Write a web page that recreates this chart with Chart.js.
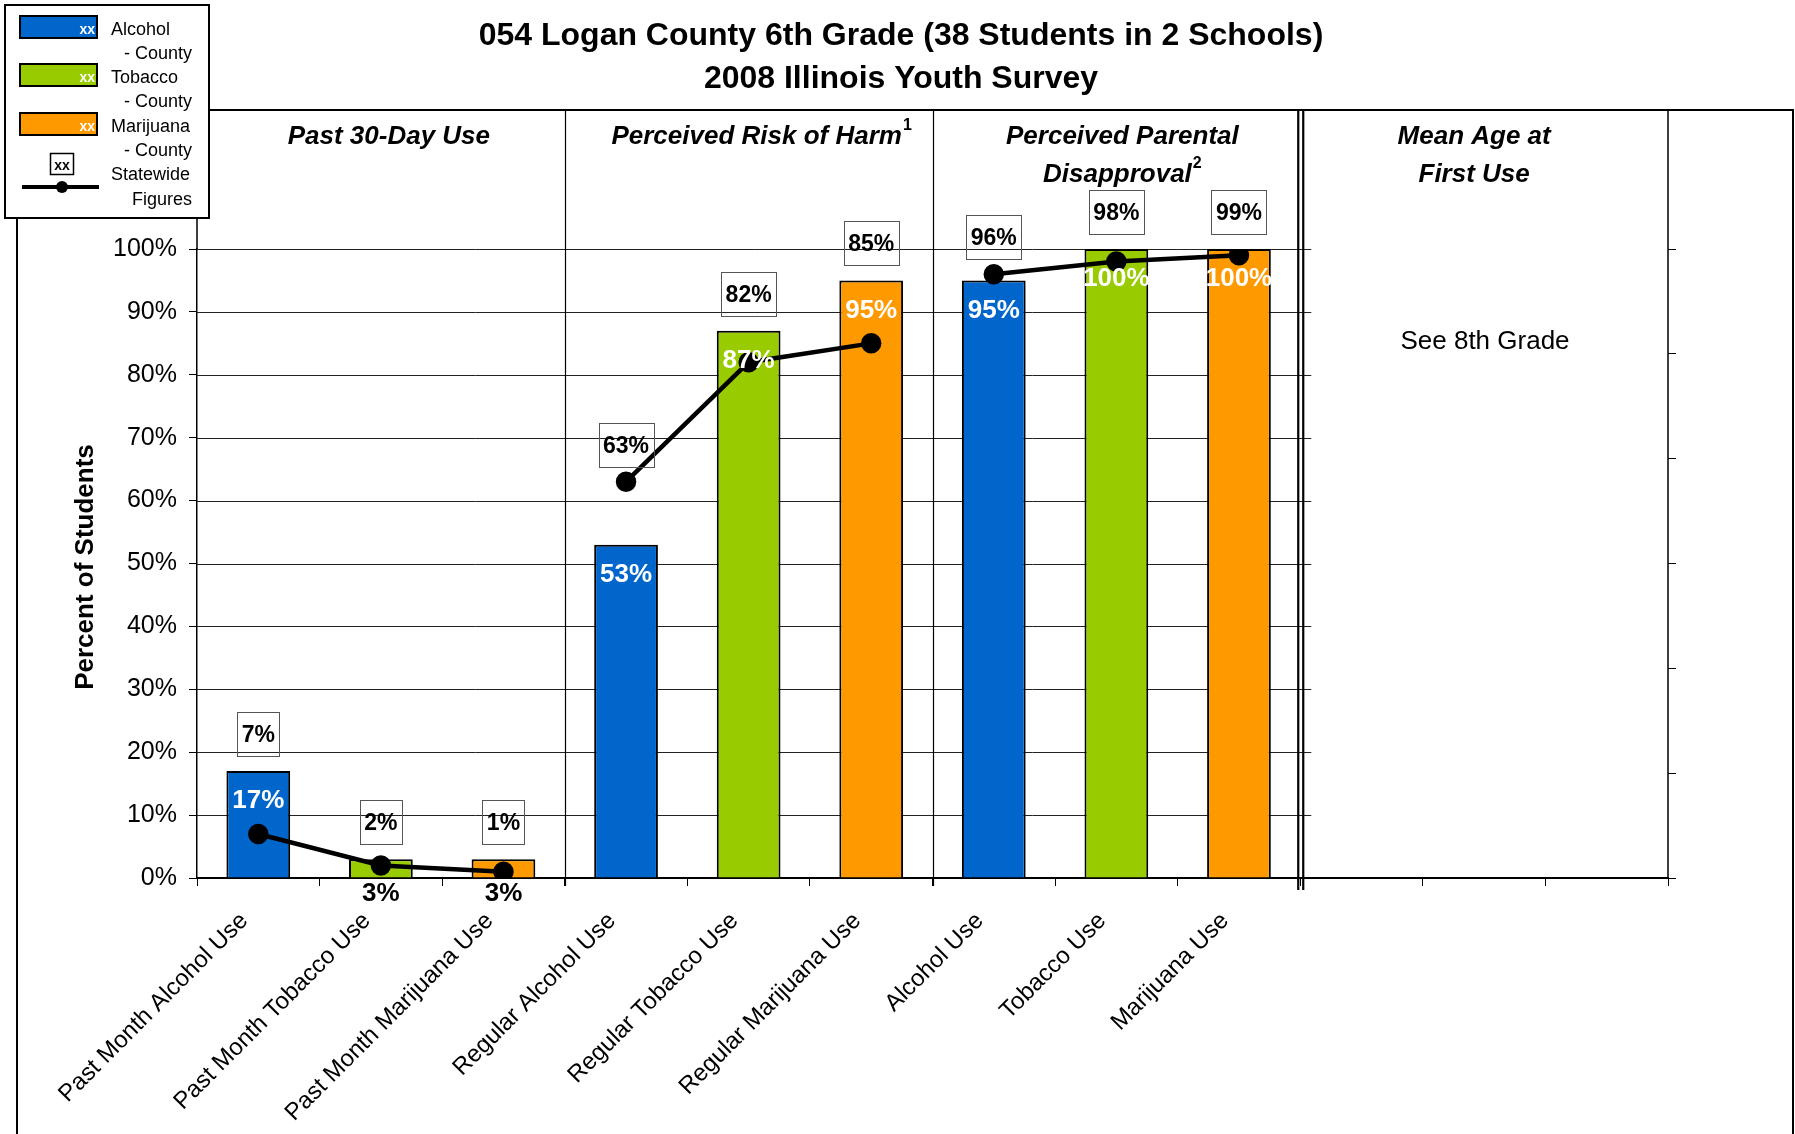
<!DOCTYPE html>
<html>
<head>
<meta charset="utf-8">
<title>054 Logan County 6th Grade</title>
<script src="https://cdn.jsdelivr.net/npm/chart.js@4.4.1/dist/chart.umd.min.js"></script>
<style>
  html, body { margin: 0; padding: 0; background: #fff; }
  #wrap { position: relative; width: 1795px; height: 1134px; }
</style>
</head>
<body>
<div id="wrap"><canvas id="myChart" width="1795" height="1134"></canvas></div>
<script>
// categories (last three slots are the empty "Mean Age" panel)
const categories = [
  'Past Month Alcohol Use', 'Past Month Tobacco Use', 'Past Month Marijuana Use',
  'Regular Alcohol Use', 'Regular Tobacco Use', 'Regular Marijuana Use',
  'Alcohol Use', 'Tobacco Use', 'Marijuana Use',
  '', '', ''
];
const county = [17, 3, 3, 53, 87, 95, 95, 100, 100];
const statewide = [7, 2, 1, 63, 82, 85, 96, 98, 99];
const yTicks = [0, 10, 20, 30, 40, 50, 60, 70, 80, 90, 100];
const substanceColors = ['#0066CC', '#99CC00', '#FF9900'];

const sections = [
  { lines: ['Past 30-Day Use'], sup: [''] },
  { lines: ['Perceived Risk of Harm'], sup: ['1'] },
  { lines: ['Perceived Parental', 'Disapproval'], sup: ['', '2'] },
  { lines: ['Mean Age at', 'First Use'], sup: ['', ''] }
];

const FONT = "'Liberation Sans', Arial, Helvetica, sans-serif";
Chart.defaults.font.family = FONT;
Chart.defaults.color = '#000';

// bars padded with nulls for the empty panel
const barData = categories.map((c, i) => (i < county.length ? county[i] : null));
const barColors = categories.map((c, i) => substanceColors[i % 3]);

// one line per panel so the statewide line breaks between panels
const lineSets = [0, 1, 2].map(s => ({
  type: 'line',
  data: categories.map((c, i) => (i >= s * 3 && i < s * 3 + 3 ? statewide[i] : null)),
  borderColor: '#000',
  borderWidth: 4.5,
  pointRadius: 8,
  pointHoverRadius: 8,
  pointBackgroundColor: '#000',
  pointBorderColor: '#000',
  spanGaps: false,
  order: 0
}));

function boundary(x, i) {
  return (x.getPixelForValue(i - 1) + x.getPixelForValue(i)) / 2;
}

const framePlugin = {
  id: 'frame',
  beforeDatasetsDraw(chart) {
    const ctx = chart.ctx, a = chart.chartArea;
    const x = chart.scales.x, y = chart.scales.y;
    const gridEnd = boundary(x, 9) + 11;
    ctx.save();
    // horizontal grid only over the three data panels
    ctx.strokeStyle = '#222';
    ctx.lineWidth = 1;
    yTicks.forEach(v => {
      if (v === 0) return;
      const py = Math.round(y.getPixelForValue(v)) + 0.5;
      ctx.beginPath();
      ctx.moveTo(a.left, py);
      ctx.lineTo(gridEnd, py);
      ctx.stroke();
    });
    // panel separators
    ctx.strokeStyle = '#000';
    ctx.lineWidth = 1.2;
    [3, 6].forEach(i => {
      const px = Math.round(boundary(x, i)) + 0.5;
      ctx.beginPath();
      ctx.moveTo(px, 110);
      ctx.lineTo(px, a.bottom + 8);
      ctx.stroke();
    });
    const dx = boundary(x, 9);
    ctx.lineWidth = 2.2;
    [dx - 2, dx + 3].forEach(px => {
      ctx.beginPath();
      ctx.moveTo(px, 110);
      ctx.lineTo(px, a.bottom + 12);
      ctx.stroke();
    });
    ctx.lineWidth = 1.5;
    ctx.beginPath();
    ctx.moveTo(a.left, 110);
    ctx.lineTo(a.left, a.top);
    ctx.moveTo(a.right, 110);
    ctx.lineTo(a.right, a.bottom);
    ctx.stroke();
    ctx.restore();
  },
  afterDatasetsDraw(chart) {
    const ctx = chart.ctx, a = chart.chartArea;
    const x = chart.scales.x, y = chart.scales.y;
    ctx.save();
    ctx.textAlign = 'center';
    ctx.textBaseline = 'middle';
    county.forEach((v, i) => {
      const cx = x.getPixelForValue(i);
      const top = y.getPixelForValue(v);
      ctx.font = 'bold 26px ' + FONT;
      if (a.bottom - top < 40) {
        ctx.fillStyle = '#000';
        ctx.fillText(v + '%', cx, a.bottom + 16);
      } else {
        ctx.fillStyle = '#fff';
        ctx.fillText(v + '%', cx, top + 30);
      }
      // statewide label box (outline only)
      const s = statewide[i];
      const hi = Math.min(top, y.getPixelForValue(s));
      ctx.font = 'bold 23px ' + FONT;
      const w = Math.round(ctx.measureText(s + '%').width) + 9;
      const h = 44;
      const bx = Math.round(cx - w / 2) + 0.5, by = Math.round(hi - 15 - h) + 0.5;
      ctx.strokeStyle = '#555';
      ctx.lineWidth = 1;
      ctx.strokeRect(bx, by, w, h);
      ctx.fillStyle = '#000';
      ctx.fillText(s + '%', cx, by + h / 2 + 1);
    });
    ctx.restore();
  },
  afterDraw(chart) {
    const ctx = chart.ctx, a = chart.chartArea;
    const x = chart.scales.x;
    ctx.save();
    // outer frame
    ctx.strokeStyle = '#000';
    ctx.lineWidth = 2;
    ctx.beginPath();
    ctx.moveTo(17, 1134);
    ctx.lineTo(17, 110);
    ctx.lineTo(1793, 110);
    ctx.lineTo(1793, 1134);
    ctx.stroke();

    // title
    ctx.fillStyle = '#000';
    ctx.textAlign = 'center';
    ctx.textBaseline = 'middle';
    ctx.font = 'bold 32px ' + FONT;
    ctx.fillText('054 Logan County 6th Grade (38 Students in 2 Schools)', 901, 36);
    ctx.fillText('2008 Illinois Youth Survey', 901, 79);

    // panel headings
    const edges = [a.left, boundary(x, 3), boundary(x, 6), boundary(x, 9), a.right];
    const nudge = [8, 13, 6, -10];
    sections.forEach((sec, k) => {
      const cx = (edges[k] + edges[k + 1]) / 2 + nudge[k];
      sec.lines.forEach((t, j) => {
        const ly = 137 + j * 38;
        ctx.font = 'italic bold 26px ' + FONT;
        const tw = ctx.measureText(t).width;
        ctx.font = 'bold 16px ' + FONT;
        const sw = sec.sup[j] ? ctx.measureText(sec.sup[j]).width + 1 : 0;
        const left = cx - (tw + sw) / 2;
        ctx.textAlign = 'left';
        ctx.font = 'italic bold 26px ' + FONT;
        ctx.fillText(t, left, ly);
        if (sec.sup[j]) {
          ctx.font = 'bold 16px ' + FONT;
          ctx.fillText(sec.sup[j], left + tw + 1, ly - 11);
        }
      });
    });
    ctx.textAlign = 'center';
    ctx.font = '26px ' + FONT;
    ctx.fillText('See 8th Grade', 1485, 342);

    // y axis title
    ctx.save();
    ctx.translate(86, 567);
    ctx.rotate(-Math.PI / 2);
    ctx.font = 'bold 26px ' + FONT;
    ctx.fillText('Percent of Students', 0, 0);
    ctx.restore();

    // legend box
    ctx.fillStyle = '#fff';
    ctx.fillRect(5, 5, 204, 213);
    ctx.lineWidth = 2;
    ctx.strokeRect(5, 5, 204, 213);
    const names = ['Alcohol', 'Tobacco', 'Marijuana'];
    const rowY = [16, 64, 113];
    names.forEach((n, i) => {
      ctx.fillStyle = substanceColors[i];
      ctx.fillRect(20, rowY[i], 77, 22);
      ctx.strokeStyle = '#000';
      ctx.lineWidth = 2;
      ctx.strokeRect(20, rowY[i], 77, 22);
      ctx.fillStyle = '#fff';
      ctx.font = 'bold 14px ' + FONT;
      ctx.textAlign = 'right';
      ctx.fillText('xx', 95, rowY[i] + 14);
      ctx.fillStyle = '#000';
      ctx.font = '18px ' + FONT;
      ctx.textAlign = 'left';
      ctx.fillText(n, 111, rowY[i] + 14);
      ctx.textAlign = 'right';
      ctx.fillText('- County', 192, rowY[i] + 38);
    });
    ctx.lineWidth = 1.5;
    ctx.strokeRect(50.5, 153.5, 23, 21);
    ctx.font = 'bold 14px ' + FONT;
    ctx.textAlign = 'center';
    ctx.fillText('xx', 62, 166);
    ctx.lineWidth = 4;
    ctx.beginPath();
    ctx.moveTo(22, 187);
    ctx.lineTo(99, 187);
    ctx.stroke();
    ctx.beginPath();
    ctx.arc(62, 187, 6, 0, Math.PI * 2);
    ctx.fill();
    ctx.font = '18px ' + FONT;
    ctx.textAlign = 'left';
    ctx.fillText('Statewide', 111, 175);
    ctx.textAlign = 'right';
    ctx.fillText('Figures', 192, 200);
    ctx.restore();
  }
};

const ctx = document.getElementById('myChart');
const myChart = new Chart(ctx, {
  data: {
    labels: categories,
    datasets: [{
      type: 'bar',
      data: barData,
      backgroundColor: barColors,
      borderColor: '#000',
      borderWidth: 2,
      barPercentage: 0.52,
      categoryPercentage: 1,
      order: 1
    }].concat(lineSets)
  },
  options: {
    responsive: false,
    animation: false,
    devicePixelRatio: 1,
    layout: { padding: { top: 249, left: 0, right: 0, bottom: 0 } },
    plugins: {
      legend: { display: false },
      title: { display: false },
      tooltip: { enabled: false }
    },
    scales: {
      x: {
        ticks: { autoSkip: false, maxRotation: 45, minRotation: 45, font: { size: 24 }, color: '#000', padding: 21, labelOffset: -14 },
        grid: { drawOnChartArea: false, tickLength: 8, color: '#000', offset: true },
        border: { color: '#000', width: 2 },
        afterFit: s => { s.height = 256; }
      },
      y: {
        min: 0,
        max: 100,
        afterBuildTicks: s => { s.ticks = yTicks.map(v => ({ value: v })); },
        ticks: { callback: v => v + '%', font: { size: 25 }, color: '#000', padding: 12 },
        grid: { drawOnChartArea: false, tickLength: 8, color: '#000' },
        border: { color: '#000', width: 1.5 },
        afterFit: s => { s.width = 197; }
      },
      y2: {
        position: 'right',
        min: 0,
        max: 6,
        ticks: { display: false, stepSize: 1 },
        grid: { drawOnChartArea: false, tickLength: 8, color: '#000' },
        border: { display: false },
        afterFit: s => { s.width = 127; }
      }
    }
  },
  plugins: [framePlugin]
});
</script>
</body>
</html>
